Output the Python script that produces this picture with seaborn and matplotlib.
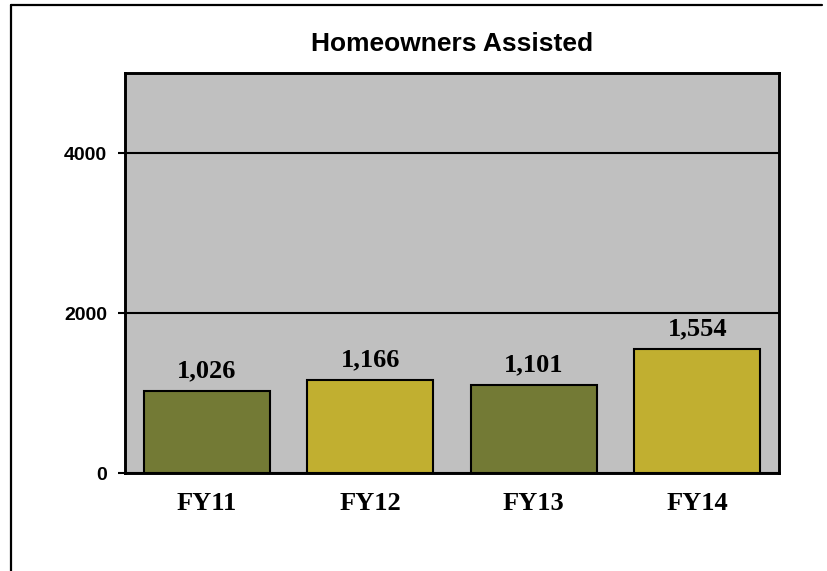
import pandas as pd
import matplotlib.pyplot as plt
import seaborn as sns
from matplotlib.lines import Line2D

sns.set_theme(style="white")
plt.rcParams['font.family'] = ['Liberation Sans', 'DejaVu Sans']
plt.rcParams.update({'text.color': 'black', 'xtick.color': 'black',
                     'ytick.color': 'black', 'axes.labelcolor': 'black'})

# Data
years = ["FY11", "FY12", "FY13", "FY14"]
assisted = [1026, 1166, 1101, 1554]
bar_colors = ["#737A35", "#C1AF30", "#737A35", "#C1AF30"]
y_ticks = [0, 2000, 4000]

df = pd.DataFrame({"Year": years, "Assisted": assisted})

fig = plt.figure(figsize=(8.27, 5.71), dpi=100)
ax = fig.add_axes([125 / 827, 1 - 473 / 571, (779 - 125) / 827, (473 - 73) / 571])
ax.set_facecolor("#C0C0C0")

sns.barplot(data=df, x="Year", y="Assisted", hue="Year", palette=bar_colors,
            legend=False, width=0.77, edgecolor="black", linewidth=1.5,
            saturation=1, ax=ax, zorder=3)

for c in ax.containers:
    ax.bar_label(c, labels=[f"{int(round(v)):,}" for v in c.datavalues], padding=6,
                 fontsize=19, fontweight="bold", family="Liberation Serif",
                 color="black")

ax.set_ylim(0, 5000)
ax.set_yticks(y_ticks)
ax.set_yticklabels([str(t) for t in y_ticks], fontsize=14, fontweight="bold",
                   color="black")
ax.tick_params(axis="y", direction="out", length=5, width=1.5, color="black",
               pad=8, left=True)
ax.tick_params(axis="x", length=0, pad=14)
for lbl in ax.get_xticklabels():
    lbl.set_fontfamily("Liberation Serif")
    lbl.set_fontweight("bold")
    lbl.set_fontsize(19)
    lbl.set_color("black")

ax.yaxis.grid(True, color="black", linewidth=1.5, zorder=1)
ax.set_axisbelow(True)
for s in ax.spines.values():
    s.set_color("black")
    s.set_linewidth(2.1)
    s.set_visible(True)

ax.set_xlabel("")
ax.set_ylabel("")
ax.set_title("Homeowners Assisted", fontsize=19, fontweight="bold", pad=16,
             color="black")

# outer frame (top and left edges visible)
fig.add_artist(Line2D([11 / 827, 822 / 827], [1 - 5 / 571, 1 - 5 / 571],
                      color="black", linewidth=1.6, transform=fig.transFigure))
fig.add_artist(Line2D([11 / 827, 11 / 827], [1 - 5 / 571, 0],
                      color="black", linewidth=1.6, transform=fig.transFigure))

fig.savefig("out.png", dpi=100, facecolor="white")
